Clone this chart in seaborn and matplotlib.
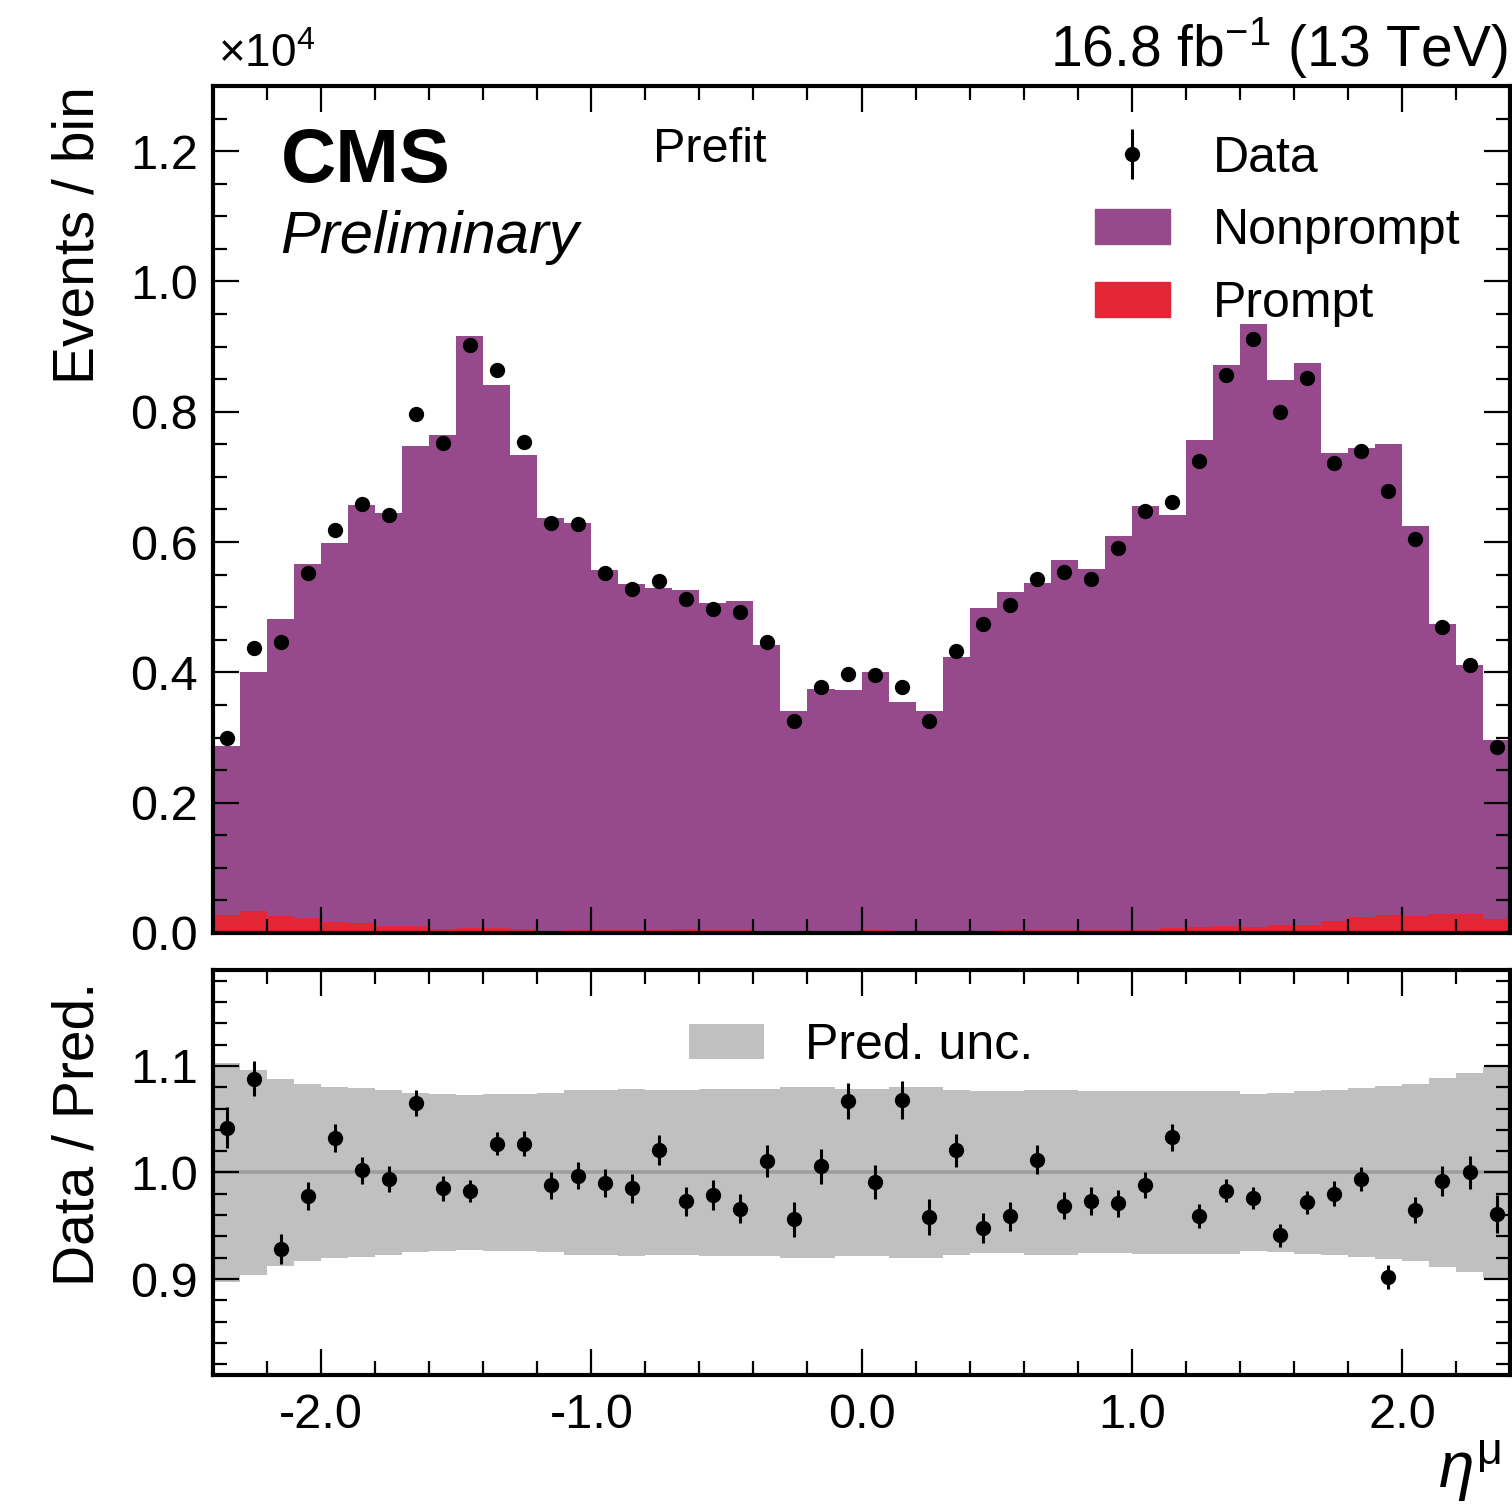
import numpy as np
import pandas as pd
import matplotlib
matplotlib.use("Agg")
import matplotlib.pyplot as plt
from matplotlib.patches import Patch
from matplotlib.ticker import MultipleLocator, FuncFormatter
import seaborn as sns

# binning: 48 bins of 0.1 in eta
edges = np.round(np.linspace(-2.4, 2.4, 49), 2)
centers = 0.5 * (edges[:-1] + edges[1:])

# prefit prediction (events per bin)
nonprompt = [2592, 3675, 4552, 5428, 5815, 6421, 6337, 7367, 7578, 9093, 8338, 7283,
             6334, 6249, 5519, 5304, 5244, 5213, 5009, 5054, 4384, 3395, 3724, 3694,
             3959, 3509, 3385, 4214, 4954, 5194, 5324, 5669, 5544, 6049, 6519, 6333,
             7467, 8617, 9252, 8362, 8632, 7180, 7198, 7227, 5982, 4452, 3832, 2744]
prompt = [278, 335, 268, 232, 175, 149, 113, 103, 62, 77, 72, 57,
          36, 41, 51, 46, 46, 57, 51, 46, 36, 15, 26, 36,
          41, 31, 15, 26, 36, 46, 46, 51, 46, 41, 41, 77,
          93, 103, 88, 118, 118, 180, 242, 283, 268, 288, 288, 216]

# observed data
data = [2990, 4380, 4470, 5530, 6180, 6590, 6410, 7960, 7520, 9030, 8640, 7540,
        6290, 6270, 5520, 5280, 5400, 5130, 4970, 4920, 4470, 3260, 3780, 3980,
        3960, 3780, 3250, 4330, 4740, 5030, 5430, 5540, 5430, 5910, 6480, 6620,
        7250, 8570, 9120, 7990, 8520, 7210, 7390, 6780, 6040, 4700, 4120, 2850]

# ratio panel
ratio = [1.042, 1.088, 0.928, 0.978, 1.032, 1.002, 0.994, 1.065, 0.985, 0.983, 1.027, 1.027,
         0.988, 0.997, 0.990, 0.985, 1.021, 0.973, 0.979, 0.966, 1.011, 0.956, 1.006, 1.067,
         0.991, 1.068, 0.958, 1.021, 0.948, 0.959, 1.012, 0.969, 0.973, 0.971, 0.988, 1.033,
         0.959, 0.983, 0.976, 0.941, 0.972, 0.980, 0.994, 0.902, 0.965, 0.992, 1.000, 0.961]
pred_unc = [0.103, 0.096, 0.088, 0.083, 0.080, 0.079, 0.077, 0.075, 0.0735, 0.073, 0.074, 0.0735,
            0.075, 0.077, 0.0775, 0.078, 0.077, 0.077, 0.078, 0.078, 0.078, 0.080, 0.080, 0.078,
            0.078, 0.080, 0.080, 0.077, 0.076, 0.076, 0.077, 0.077, 0.076, 0.076, 0.0765, 0.0765,
            0.0765, 0.0765, 0.074, 0.075, 0.0765, 0.0775, 0.079, 0.081, 0.083, 0.089, 0.093, 0.099]

purple = "#964a8b"
red = "#e42536"

sns.set_theme(style="ticks")
plt.rcParams['font.family'] = ['Liberation Sans', 'DejaVu Sans']
plt.rcParams['mathtext.fontset'] = 'custom'
plt.rcParams['mathtext.rm'] = 'Liberation Sans'
plt.rcParams['mathtext.it'] = 'Liberation Sans:italic'
plt.rcParams['mathtext.bf'] = 'Liberation Sans:bold'
for key in ['text.color', 'axes.labelcolor', 'xtick.color', 'ytick.color', 'axes.edgecolor']:
    plt.rcParams[key] = 'black'

df = pd.DataFrame({
    'eta': np.concatenate([centers, centers]),
    'events': np.concatenate([nonprompt, prompt]).astype(float),
    'process': ['Nonprompt'] * len(centers) + ['Prompt'] * len(centers),
})
data = np.array(data, dtype=float)
ratio = np.array(ratio)
pred_unc = np.array(pred_unc)
total = np.array(nonprompt) + np.array(prompt)

fig = plt.figure(figsize=(15.12, 15.08), dpi=100)
ax1 = fig.add_axes([0.1409, 0.3813, 0.8578, 0.5617])
ax2 = fig.add_axes([0.1409, 0.0882, 0.8578, 0.2686])

sns.histplot(data=df, x='eta', weights='events', hue='process',
             hue_order=['Nonprompt', 'Prompt'], bins=len(centers),
             binrange=(edges[0], edges[-1]), multiple='stack',
             element='step', fill=True, alpha=1, linewidth=0,
             palette={'Nonprompt': purple, 'Prompt': red}, legend=False, ax=ax1)

data_h = ax1.errorbar(centers, data, yerr=np.sqrt(data), fmt='o', color='black',
                      ms=10, elinewidth=2.2, capsize=0, zorder=5)

# ratio panel
ax2.stairs(1 + pred_unc, edges, baseline=1 - pred_unc, fill=True,
           color='#c0c0c0', lw=0, label='Pred. unc.')
ax2.axhline(1.0, color='#9e9e9e', lw=2.6, zorder=2)
ax2.errorbar(centers, ratio, yerr=np.sqrt(data) / total, fmt='o', color='black',
             ms=10, elinewidth=2.2, capsize=0, zorder=5)

for ax in (ax1, ax2):
    ax.set_xlim(-2.4, 2.4)
    ax.xaxis.set_major_locator(MultipleLocator(1.0))
    ax.xaxis.set_minor_locator(MultipleLocator(0.2))
    ax.tick_params(which='both', direction='in', top=True, right=True,
                   width=1.6, labelsize=35, pad=11)
    ax.tick_params(which='major', length=19)
    ax.tick_params(which='minor', length=10)
    for s in ax.spines.values():
        s.set_linewidth(3)
    ax.set_axisbelow(False)

ax1.set_ylim(0, 13000)
ax1.yaxis.set_major_locator(MultipleLocator(2000))
ax1.yaxis.set_minor_locator(MultipleLocator(500))
ax1.yaxis.set_major_formatter(FuncFormatter(lambda v, p: f"{v / 1e4:.1f}"))
ax1.tick_params(axis='x', labelbottom=False)
ax1.set_xlabel('')
ax1.set_ylabel('Events / bin', fontsize=41, loc='top')
ax1.yaxis.set_label_coords(-0.083, 1.0)

ax2.set_ylim(0.81, 1.19)
ax2.yaxis.set_major_locator(MultipleLocator(0.1))
ax2.yaxis.set_minor_locator(MultipleLocator(0.02))
ax2.xaxis.set_major_formatter(FuncFormatter(lambda v, p: f"{v:.1f}"))
ax2.tick_params(axis='x', pad=13)
ax2.set_ylabel('Data / Pred.', fontsize=41, loc='top')
ax2.yaxis.set_label_coords(-0.083, 0.97)
ax2.set_xlabel(r'$\eta^{\mathrm{\mu}}$', fontsize=46, loc='right')
ax2.xaxis.set_label_coords(0.993, -0.155)

# labels
ax1.text(0.004, 1.010, r'$\times$10$^{4}$', transform=ax1.transAxes,
         fontsize=33, ha='left', va='bottom')
ax1.text(0.998, 1.007, r'16.8 fb$^{-1}$ (13 TeV)', transform=ax1.transAxes,
         fontsize=41, ha='right', va='bottom')
ax1.text(0.052, 0.951, 'CMS', transform=ax1.transAxes, fontsize=55,
         fontweight='bold', ha='left', va='top')
ax1.text(0.052, 0.854, 'Preliminary', transform=ax1.transAxes, fontsize=43,
         style='italic', ha='left', va='top')
ax1.text(0.339, 0.951, 'Prefit', transform=ax1.transAxes, fontsize=35,
         ha='left', va='top')

handles = [data_h, Patch(color=purple), Patch(color=red)]
ax1.legend(handles, ['Data', 'Nonprompt', 'Prompt'], loc='upper left',
           bbox_to_anchor=(0.680, 0.941), frameon=False, fontsize=36,
           borderpad=0, borderaxespad=0, handlelength=1.5, handleheight=0.7,
           handletextpad=0.86, labelspacing=0.53)
ax2.legend(loc='upper left', bbox_to_anchor=(0.367, 0.87), frameon=False,
           fontsize=36, borderpad=0, borderaxespad=0, handlelength=1.5,
           handleheight=0.7, handletextpad=0.82)

fig.savefig('out.png', dpi=100)
